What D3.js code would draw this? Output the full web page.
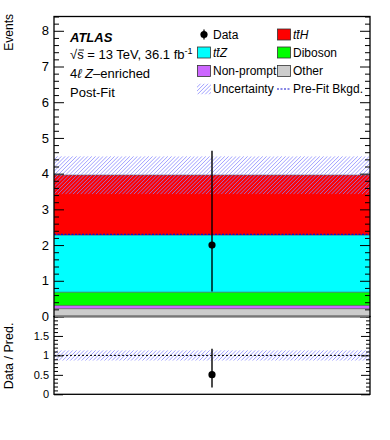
<!DOCTYPE html>
<html>
<head>
<meta charset="utf-8">
<script src="https://cdn.jsdelivr.net/npm/d3@7"></script>
<style>
  body { margin: 0; background: #fff; }
  svg { font-family: "Liberation Sans", Arial, Helvetica, sans-serif; }
</style>
</head>
<body>
<div id="chart"></div>
<script>
// ---- data ----
const bins = ["4l Z-enriched"];
const samples = ["Other", "Non-prompt", "Diboson", "ttZ", "ttH"];
const sampleColors = ["#cccccc", "#cc66ff", "#00ff00", "#00ffff", "#ff0000"];
const yields = [0.22, 0.09, 0.37, 1.60, 1.68];
const uncBand = [3.42, 4.49];
const preFitBkgd = [2.30];
const dataCounts = [2];
const dataErrLow = [0.70];
const dataErrHigh = [4.64];
const mainTicks = [0, 1, 2, 3, 4, 5, 6, 7, 8];
const ratioTicks = [0, 0.5, 1, 1.5];

// ---- layout ----
const W = 390, H = 440;
const x0 = 54, x1 = 370;
const mainTop = 16.5, mainBot = 316.5;
const ratioTop = 316.5, ratioBot = 394.3;
const hatchColor = "#8888ff";

const svg = d3.select("#chart").append("svg")
    .attr("width", W).attr("height", H);
const defs = svg.append("defs");
let clipCount = 0;

// diagonal hatching drawn as clipped lines
function hatchRect(g, rx, ry, rw, rh) {
    const id = "hclip" + (clipCount++);
    defs.append("clipPath").attr("id", id)
        .append("rect").attr("x", rx).attr("y", ry).attr("width", rw).attr("height", rh);
    const hg = g.append("g").attr("clip-path", `url(#${id})`);
    const step = 3.8;
    const starts = d3.range(rx - rh, rx + rw + step, step);
    hg.selectAll(null).data(starts).enter().append("line")
        .attr("x1", d => d).attr("y1", ry + rh)
        .attr("x2", d => d + rh).attr("y2", ry)
        .attr("stroke", hatchColor).attr("stroke-width", 0.8);
}

// scales
const x = d3.scaleBand().domain(bins).range([x0, x1]);
const y = d3.scaleLinear().domain([0, 8.4]).range([mainBot, mainTop]);
const yr = d3.scaleLinear().domain([0, 2]).range([ratioBot, ratioTop]);

// stack
const rows = bins.map(b => {
    let r = {bin: b};
    samples.forEach((s, j) => r[s] = yields[j]);
    return r;
});
const series = d3.stack().keys(samples)(rows);
const total = bins.map(() => d3.sum(yields));

const main = svg.append("g");
series.forEach((s, j) => {
    main.selectAll(null).data(s).enter().append("rect")
        .attr("x", d => x(d.data.bin))
        .attr("width", x.bandwidth())
        .attr("y", d => y(d[1]))
        .attr("height", d => y(d[0]) - y(d[1]))
        .attr("fill", sampleColors[j]);
});
// thin outlines at segment edges
series.forEach(s => {
    main.selectAll(null).data(s).enter().append("line")
        .attr("x1", d => x(d.data.bin))
        .attr("x2", d => x(d.data.bin) + x.bandwidth())
        .attr("y1", d => y(d[1])).attr("y2", d => y(d[1]))
        .attr("stroke", "#444").attr("stroke-opacity", 0.6).attr("stroke-width", 1);
});

// uncertainty band
bins.forEach(b => {
    hatchRect(main, x(b), y(uncBand[1]), x.bandwidth(), y(uncBand[0]) - y(uncBand[1]));
});

// pre-fit background
main.selectAll(null).data(bins).enter().append("line")
    .attr("x1", d => x(d)).attr("x2", d => x(d) + x.bandwidth())
    .attr("y1", (d, i) => y(preFitBkgd[i])).attr("y2", (d, i) => y(preFitBkgd[i]))
    .attr("stroke", "#1010cc").attr("stroke-width", 1.2)
    .attr("stroke-dasharray", "2,1.5");

// data
const cx = d => x(d) + x.bandwidth() / 2;
main.selectAll(null).data(bins).enter().append("line")
    .attr("x1", cx).attr("x2", cx)
    .attr("y1", (d, i) => y(dataErrLow[i])).attr("y2", (d, i) => y(dataErrHigh[i]))
    .attr("stroke", "#000").attr("stroke-width", 1.4);
main.selectAll(null).data(bins).enter().append("circle")
    .attr("cx", cx).attr("cy", (d, i) => y(dataCounts[i]))
    .attr("r", 3.6).attr("fill", "#000");

// ---- ratio panel ----
const ratio = svg.append("g");
bins.forEach((b, i) => {
    const hi = yr(uncBand[1] / total[i]), lo = yr(uncBand[0] / total[i]);
    hatchRect(ratio, x(b), hi, x.bandwidth(), lo - hi);
});
ratio.append("line")
    .attr("x1", x0).attr("x2", x1)
    .attr("y1", yr(1)).attr("y2", yr(1))
    .attr("stroke", "#000").attr("stroke-width", 1)
    .attr("stroke-dasharray", "2,2");
ratio.selectAll(null).data(bins).enter().append("line")
    .attr("x1", cx).attr("x2", cx)
    .attr("y1", (d, i) => yr(dataErrLow[i] / total[i]))
    .attr("y2", (d, i) => yr(dataErrHigh[i] / total[i]))
    .attr("stroke", "#000").attr("stroke-width", 1.4);
ratio.selectAll(null).data(bins).enter().append("circle")
    .attr("cx", cx).attr("cy", (d, i) => yr(dataCounts[i] / total[i]))
    .attr("r", 3.6).attr("fill", "#000");

// ---- axes ----
function minorOf(major, step, max) {
    return d3.range(0, max + 1e-9, step).filter(v => !major.some(m => Math.abs(m - v) < 1e-9));
}
function drawAxes(scale, major, minorStep, max, bigTick, smallTick, fontSize) {
    const minor = minorOf(major, minorStep, max);
    const gl = svg.append("g").attr("transform", `translate(${x0},0)`)
        .call(d3.axisLeft(scale).tickValues(major).tickSize(-bigTick).tickPadding(5)
            .tickFormat(d => d3.format("")(d)));
    gl.selectAll("text").attr("font-size", fontSize).attr("fill", "#000")
        .attr("font-family", "Liberation Sans, Arial, sans-serif");
    svg.append("g").attr("transform", `translate(${x0},0)`)
        .call(d3.axisLeft(scale).tickValues(minor).tickSize(-smallTick).tickFormat(""));
    svg.append("g").attr("transform", `translate(${x1},0)`)
        .call(d3.axisRight(scale).tickValues(major).tickSize(-bigTick).tickFormat(""));
    svg.append("g").attr("transform", `translate(${x1},0)`)
        .call(d3.axisRight(scale).tickValues(minor).tickSize(-smallTick).tickFormat(""));
}
drawAxes(y, mainTicks, 0.2, 8.4, 10, 5, 13);
drawAxes(yr, ratioTicks, 0.1, 2, 9, 4, 11);
svg.selectAll(".domain").remove();
svg.selectAll(".tick line").attr("stroke", "#000");

// frames
svg.append("rect").attr("x", x0).attr("y", mainTop).attr("width", x1 - x0).attr("height", mainBot - mainTop)
    .attr("fill", "none").attr("stroke", "#000").attr("stroke-width", 1.3);
svg.append("rect").attr("x", x0).attr("y", ratioTop).attr("width", x1 - x0).attr("height", ratioBot - ratioTop)
    .attr("fill", "none").attr("stroke", "#000").attr("stroke-width", 1.3);
// bottom edge of the stack, drawn over the frame
svg.append("line").attr("x1", x0 + 1).attr("x2", x1 - 1).attr("y1", mainBot).attr("y2", mainBot)
    .attr("stroke", "#777").attr("stroke-width", 1.5);

// axis titles
svg.append("text").attr("transform", "translate(13,14) rotate(-90)")
    .attr("text-anchor", "end").attr("font-size", 12).text("Events");
svg.append("text").attr("transform", "translate(13,356) rotate(-90)")
    .attr("text-anchor", "middle").attr("font-size", 12.5).text("Data / Pred.");

// ---- labels ----
function overline(textSel, idx) {
    const b = textSel.node().getExtentOfChar(idx);
    svg.append("line")
        .attr("x1", b.x + b.width * 0.25).attr("x2", b.x + b.width * 1.05)
        .attr("y1", b.y + b.height * 0.2).attr("y2", b.y + b.height * 0.2)
        .attr("stroke", "#000").attr("stroke-width", 0.9);
}

svg.append("text").attr("x", 70).attr("y", 42).attr("font-size", 13)
    .attr("font-weight", "bold").attr("font-style", "italic").text("ATLAS");
const lumi = svg.append("text").attr("x", 70).attr("y", 59).attr("font-size", 13);
lumi.append("tspan").text("\u221As = 13 TeV, 36.1 fb");
lumi.append("tspan").attr("dy", -5).attr("font-size", 9).text("-1");
overline(lumi, 1);
const reg = svg.append("text").attr("x", 70).attr("y", 78).attr("font-size", 13);
reg.append("tspan").text("4");
reg.append("tspan").attr("font-style", "italic").text("\u2113 Z");
reg.append("tspan").text("\u2013enriched");
svg.append("text").attr("x", 70).attr("y", 97).attr("font-size", 13).text("Post-Fit");

// ---- legend ----
const legNames = ["Data", "ttH", "ttZ", "Diboson", "Non-prompt", "Other", "Uncertainty", "Pre-Fit Bkgd."];
const legKinds = ["data", "ttH", "ttZ", "Diboson", "Non-prompt", "Other", "unc", "prefit"];
const colX = [197, 277];
const rowY = [34.5, 52.5, 71, 89];
const leg = svg.append("g").attr("font-size", 12);
legNames.forEach((name, i) => {
    const cxL = colX[i % 2], cyL = rowY[Math.floor(i / 2)];
    const kind = legKinds[i];
    if (kind === "data") {
        leg.append("line").attr("x1", cxL + 7).attr("x2", cxL + 7)
            .attr("y1", cyL - 5).attr("y2", cyL + 5).attr("stroke", "#000").attr("stroke-width", 1.3);
        leg.append("circle").attr("cx", cxL + 7).attr("cy", cyL).attr("r", 3.6);
    } else if (kind === "unc") {
        hatchRect(leg, cxL, cyL - 5.5, 14, 11);
    } else if (kind === "prefit") {
        leg.append("line").attr("x1", cxL).attr("x2", cxL + 13).attr("y1", cyL).attr("y2", cyL)
            .attr("stroke", "#1010cc").attr("stroke-width", 1.2).attr("stroke-dasharray", "2,1.5");
    } else {
        leg.append("rect").attr("x", cxL + 0.5).attr("y", cyL - 5.5).attr("width", 13).attr("height", 11)
            .attr("fill", sampleColors[samples.indexOf(kind)])
            .attr("stroke", "#333").attr("stroke-width", 0.8);
    }
    const t = leg.append("text").attr("x", cxL + 16).attr("y", cyL + 4.3);
    if (kind === "ttH" || kind === "ttZ") {
        t.attr("font-style", "italic").text("tt" + kind.slice(2));
        overline(t, 1);
    } else {
        t.text(name);
    }
});
</script>
</body>
</html>
